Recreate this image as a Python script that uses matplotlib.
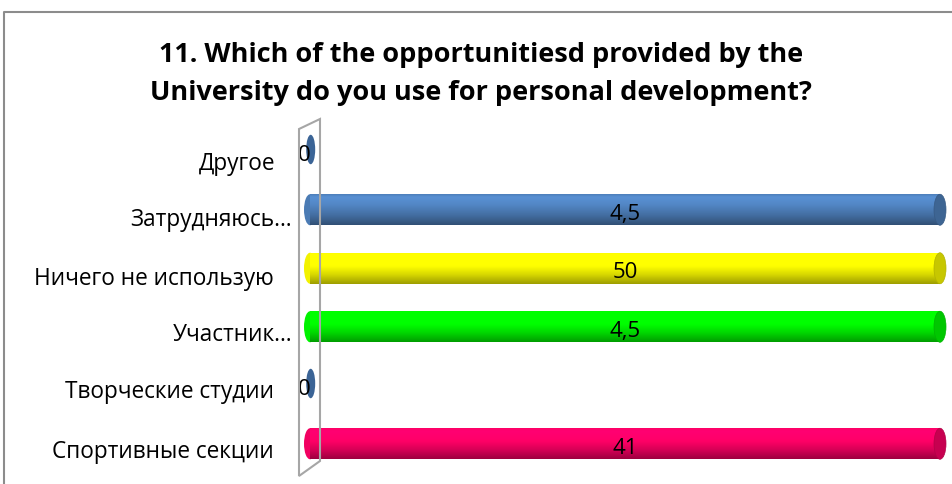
import numpy as np
import matplotlib.pyplot as plt
from matplotlib.patches import Ellipse, Rectangle, Polygon
from matplotlib.lines import Line2D
from matplotlib.colors import to_rgb

plt.rcParams['font.family'] = ['Open Sans', 'DejaVu Sans']

categories = ['Спортивные секции', 'Творческие студии', 'Участник…',
              'Ничего не использую', 'Затрудняюсь…', 'Другое']
values = [41, 0, 4.5, 50, 4.5, 0]
value_labels = ['41', '0', '4,5', '50', '4,5', '0']
colors = ['#FF0066', '#4F81BD', '#00FF00', '#FFFF00', '#4F81BD', '#4F81BD']
title = '11. Which of the opportunitiesd provided by the\nUniversity do you use for personal development?'
x_max = 4.5

W, H = 953, 485
fig = plt.figure(figsize=(W / 100, H / 100), dpi=100)

# chart frame (top and left edges visible)
fig.add_artist(Line2D([4 / W, 4 / W, 1], [0, 1 - 13 / H, 1 - 13 / H],
                      color='#8C8C8C', lw=1.5))

# thin 3d back wall
wall = [(299, 130), (320, 120), (320, 462), (299, 477)]
fig.add_artist(Polygon([(x / W, 1 - y / H) for x, y in wall], closed=True,
                       fill=False, ec='#A6A6A6', lw=1.5))

ax_l, ax_r, ax_t, ax_b = 310, 940, 123, 474
ax = fig.add_axes([ax_l / W, 1 - ax_b / H, (ax_r - ax_l) / W, (ax_b - ax_t) / H])
ax.patch.set_alpha(0)
for s in ax.spines.values():
    s.set_visible(False)

bar_h = 0.53
cap_w = 12 / (ax_r - ax_l) * x_max

# vertical shading profile of a cylinder, top to bottom
prof = np.interp(np.linspace(0, 1, 60), [0, 0.12, 0.35, 0.7, 1.0],
                 [0.95, 1.12, 1.05, 0.85, 0.62])

for i, (v, c) in enumerate(zip(values, colors)):
    base = np.array(to_rgb(c))
    end = min(v, x_max)
    if v > 0:
        ax.add_patch(Ellipse((0, i), cap_w, bar_h, fc=np.clip(base * 0.95, 0, 1),
                             ec='none', zorder=2, clip_on=False))
        rect = Rectangle((0, i - bar_h / 2), v, bar_h, fc=c, ec='none', zorder=3)
        ax.add_patch(rect)
        grad = np.clip(prof[:, None, None] * base[None, None, :], 0, 1)
        im = ax.imshow(grad, extent=[0, end, i - bar_h / 2, i + bar_h / 2],
                       aspect='auto', zorder=3, origin='upper', interpolation='bilinear')
        im.set_clip_path(rect)
        ax.add_patch(Ellipse((end, i), cap_w, bar_h, fc=np.clip(base * 0.78, 0, 1),
                             ec=np.clip(base * 0.7, 0, 1), lw=0.5, zorder=4, clip_on=False))
        lx = end / 2
    else:
        ax.add_patch(Ellipse((0.005, i + 0.03), cap_w * 0.75, bar_h * 0.95, fc='#3B6496',
                             ec='none', zorder=4, clip_on=False))
        lx = -0.04
    ax.text(lx, i - 0.06, value_labels[i], ha='center', va='center',
            fontsize=16, color='black', zorder=5)

ax.set_xlim(0, x_max)
ax.set_ylim(-0.5, len(categories) - 0.5)
ax.set_xticks([])
ax.set_yticks([])

# category labels, right aligned next to the wall
label_right = [274, 274, 292, 274, 292, 275]
label_y = [450, 390, 333, 277, 218, 162]
for name, xr, yc in zip(categories, label_right, label_y):
    fig.text(xr / W, 1 - (yc + 2) / H, name, ha='right', va='center', fontsize=16.3)

fig.text(481 / W, 1 - 74 / H, title, ha='center', va='center', fontsize=19.5,
         fontweight='bold', linespacing=1.55)

fig.savefig('out.png', dpi=100)
